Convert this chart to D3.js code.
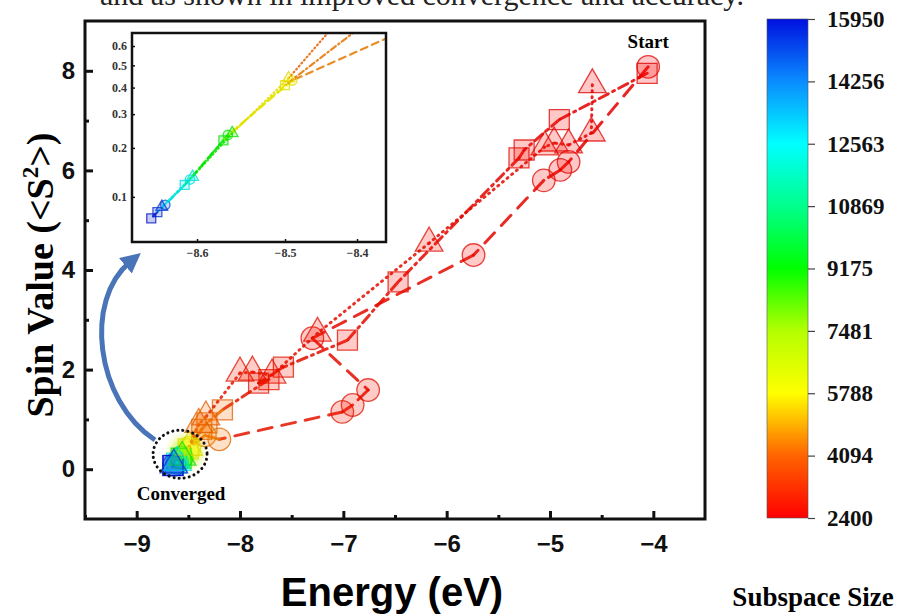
<!DOCTYPE html>
<html>
<head>
<meta charset="utf-8">
<script src="https://cdn.jsdelivr.net/npm/d3@7.9.0/dist/d3.min.js"></script>
<style>
  body { margin: 0; background: #fff; }
  svg { display: block; }
</style>
</head>
<body>
<svg id="chart" width="900" height="615"></svg>
<script>
// circle series (long dash)
const circleEnergy = [-4.05, -4.82, -4.90, -5.06, -5.74, -7.30, -6.76, -6.91, -7.01, -8.20, -8.34, -8.49, -8.565, -8.608, -8.636];
const circleSpin   = [8.08, 6.17, 6.01, 5.80, 4.30, 2.63, 1.59, 1.29, 1.15, 0.60, 0.68, 0.43, 0.235, 0.13, 0.088];
const circleSize   = [2400, 2450, 2500, 2550, 2600, 2650, 2700, 2750, 2800, 4300, 4500, 5800, 9100, 12500, 15000];

// square series (dash-dot)
const squareEnergy = [-4.06, -4.91, -5.25, -5.30, -6.47, -6.96, -7.58, -7.82, -7.72, -8.17, -8.32, -8.37, -8.50, -8.57, -8.614, -8.645, -8.652];
const squareSpin   = [7.95, 7.02, 6.41, 6.25, 3.76, 2.59, 2.05, 1.73, 1.80, 1.19, 0.93, 0.80, 0.41, 0.22, 0.12, 0.078, 0.07];
const squareSize   = [2400, 2450, 2500, 2550, 2600, 2650, 2700, 2750, 2800, 4200, 4300, 4400, 5900, 9200, 12600, 15500, 15950];

// triangle series (dotted)
const triEnergy = [-4.59, -4.60, -4.82, -4.96, -5.05, -6.17, -7.25, -7.69, -7.88, -8.00, -8.33, -8.40, -8.495, -8.56, -8.605, -8.64];
const triSpin   = [7.72, 6.75, 6.51, 6.55, 6.47, 4.54, 2.73, 1.89, 1.95, 1.93, 1.05, 0.90, 0.44, 0.24, 0.135, 0.085];
const triSize   = [2400, 2450, 2500, 2550, 2600, 2650, 2700, 2750, 2800, 2850, 4100, 4200, 5700, 9000, 12400, 15300];

// axes / colour bar
const xTicks = [-9, -8, -7, -6, -5, -4];
const yTicks = [0, 2, 4, 6, 8];
const insetXTicks = [-8.6, -8.5, -8.4];
const insetYTicks = [0.1, 0.2, 0.3, 0.4, 0.5, 0.6];
const colorTicks = [2400, 4094, 5788, 7481, 9175, 10869, 12563, 14256, 15950];
const colorStops = ["#ff0000", "#ff6400", "#ffff00", "#b4ff00", "#00ff00", "#00ff8c", "#00ffff", "#0a8cff", "#0010e0"];

const svg = d3.select('#chart');
const serif = '"Liberation Serif", "Times New Roman", serif';
const sans = '"Liberation Sans", Arial, sans-serif';

const color = d3.scaleLinear().domain(colorTicks).range(colorStops);

// main scales
const x = d3.scaleLinear().domain([-9.5, -3.5]).range([85, 705]);
const y = d3.scaleLinear().domain([-1, 9]).range([519, 21]);

// inset scales
const ix = d3.scaleLinear().domain([-8.6, -8.5, -8.4]).range([197, 285, 357]);
const iy = d3.scalePow().exponent(0.3).domain([0.045, 0.675]).range([242, 33]);

const defs = svg.append('defs');

// clipped line of text from the page above the figure
svg.append('text')
  .attr('x', 100).attr('y', 5)
  .attr('font-family', serif).attr('font-size', 30)
  .attr('fill', '#222')
  .text('and as shown in improved convergence and accuracy.');

// main axes
const gx = svg.append('g').attr('transform', `translate(0,${y(-1)})`)
  .call(d3.axisBottom(x).tickValues(xTicks).tickSize(-8).tickPadding(16).tickFormat(d3.format('d')));
svg.append('g').attr('transform', `translate(0,${y(-1)})`)
  .call(d3.axisBottom(x).tickValues(d3.range(-9.5, -3.9, 1)).tickSize(-4).tickFormat(''));
const gy = svg.append('g').attr('transform', `translate(${x(-9.5)},0)`)
  .call(d3.axisLeft(y).tickValues(yTicks).tickSize(-8).tickPadding(10).tickFormat(d3.format('d')));
svg.append('g').attr('transform', `translate(${x(-9.5)},0)`)
  .call(d3.axisLeft(y).tickValues([1, 3, 5, 7]).tickSize(-4).tickFormat(''));

svg.selectAll('.domain').remove();
svg.selectAll('.tick line').attr('stroke', '#111').attr('stroke-width', 3);
[gx, gy].forEach(g => g.selectAll('text')
  .attr('font-family', sans).attr('font-weight', 'bold')
  .attr('font-size', 24).attr('fill', '#111'));

svg.append('rect')
  .attr('x', x(-9.5)).attr('y', y(9))
  .attr('width', x(-3.5) - x(-9.5)).attr('height', y(-1) - y(9))
  .attr('fill', 'none').attr('stroke', '#111').attr('stroke-width', 3);

// axis titles
svg.append('text')
  .attr('x', 392).attr('y', 606)
  .attr('text-anchor', 'middle')
  .attr('font-family', sans).attr('font-weight', 'bold').attr('font-size', 40)
  .text('Energy (eV)');

const yt = svg.append('text')
  .attr('transform', 'translate(53,275) rotate(-90)')
  .attr('text-anchor', 'middle')
  .attr('font-family', serif).attr('font-weight', 'bold').attr('font-size', 38);
yt.append('tspan').text('Spin Value (<S');
yt.append('tspan').attr('font-size', 23).attr('dy', -15).text('2');
yt.append('tspan').attr('dy', 15).text('>)');

// converged glow + ellipse
const glow = defs.append('radialGradient').attr('id', 'glow');
glow.append('stop').attr('offset', '0%').attr('stop-color', '#f4f000').attr('stop-opacity', 0.9);
glow.append('stop').attr('offset', '60%').attr('stop-color', '#c8f030').attr('stop-opacity', 0.5);
glow.append('stop').attr('offset', '100%').attr('stop-color', '#ffff80').attr('stop-opacity', 0);
svg.append('circle')
  .attr('cx', x(-8.52)).attr('cy', y(0.35)).attr('r', 22)
  .attr('fill', 'url(#glow)');

function drawSeries(g, xs, ys, ss, symbol, dash, sx, sy, symSize, lw) {
  for (let i = 0; i < xs.length - 1; i++) {
    g.append('line')
      .attr('x1', sx(xs[i])).attr('y1', sy(ys[i]))
      .attr('x2', sx(xs[i + 1])).attr('y2', sy(ys[i + 1]))
      .attr('stroke', d3.color(color(ss[i])).darker(0.3))
      .attr('stroke-width', lw)
      .attr('stroke-dasharray', dash)
      .attr('stroke-linecap', 'round')
      .attr('opacity', 0.85);
  }
  const sym = d3.symbol().type(symbol).size(symSize);
  xs.forEach((v, i) => {
    const c = color(ss[i]);
    g.append('path')
      .attr('d', sym())
      .attr('transform', `translate(${sx(v)},${sy(ys[i])})`)
      .attr('fill', c).attr('fill-opacity', 0.22)
      .attr('stroke', d3.color(c).darker(0.4)).attr('stroke-opacity', 0.75)
      .attr('stroke-width', 1.3);
  });
}

const main = svg.append('g');
drawSeries(main, circleEnergy, circleSpin, circleSize, d3.symbolCircle, '14,10', x, y, 400, 3);
drawSeries(main, squareEnergy, squareSpin, squareSize, d3.symbolSquare, '10,5,2,5', x, y, 400, 3);
drawSeries(main, triEnergy, triSpin, triSize, d3.symbolTriangle, '1,5', x, y, 330, 3);

svg.append('ellipse')
  .attr('cx', x(-8.58)).attr('cy', y(0.3)).attr('rx', 27).attr('ry', 24)
  .attr('fill', 'none').attr('stroke', '#111').attr('stroke-width', 3)
  .attr('stroke-dasharray', '0.1,5').attr('stroke-linecap', 'round');

svg.append('text')
  .attr('x', x(-8.57)).attr('y', 500).attr('text-anchor', 'middle')
  .attr('font-family', serif).attr('font-weight', 'bold').attr('font-size', 19)
  .text('Converged');
svg.append('text')
  .attr('x', x(-4.05)).attr('y', 48).attr('text-anchor', 'middle')
  .attr('font-family', serif).attr('font-weight', 'bold').attr('font-size', 19)
  .text('Start');

// blue arrow towards inset
defs.append('marker')
  .attr('id', 'head').attr('viewBox', '0 0 10 10')
  .attr('refX', 3).attr('refY', 5)
  .attr('markerWidth', 4).attr('markerHeight', 4)
  .attr('orient', 'auto')
  .append('path').attr('d', 'M0,0 L10,5 L0,10 z').attr('fill', '#4a74b8');
svg.append('path')
  .attr('d', 'M155,440 C95,400 84,300 130,262')
  .attr('fill', 'none').attr('stroke', '#4a74b8').attr('stroke-width', 5)
  .attr('marker-end', 'url(#head)');

// inset
const insetL = 132, insetR = 386, insetT = 33, insetB = 242;
svg.append('rect')
  .attr('x', insetL).attr('y', insetT)
  .attr('width', insetR - insetL).attr('height', insetB - insetT)
  .attr('fill', '#fff');
defs.append('clipPath').attr('id', 'insetClip')
  .append('rect').attr('x', insetL).attr('y', insetT)
  .attr('width', insetR - insetL).attr('height', insetB - insetT);
const inset = svg.append('g').attr('clip-path', 'url(#insetClip)');
drawSeries(inset, circleEnergy, circleSpin, circleSize, d3.symbolCircle, '7,5', ix, iy, 70, 2.2);
drawSeries(inset, squareEnergy, squareSpin, squareSize, d3.symbolSquare, '6,3,1.5,3', ix, iy, 80, 2.2);
drawSeries(inset, triEnergy, triSpin, triSize, d3.symbolTriangle, '1,3', ix, iy, 60, 2.2);

const igx = svg.append('g').attr('transform', `translate(0,${insetB})`)
  .call(d3.axisBottom(ix).tickValues(insetXTicks).tickSize(-3).tickPadding(6).tickFormat(d3.format('.1f')));
const igy = svg.append('g').attr('transform', `translate(${insetL},0)`)
  .call(d3.axisLeft(iy).tickValues(insetYTicks).tickSize(-3).tickPadding(5).tickFormat(d3.format('.1f')));
[igx, igy].forEach(g => {
  g.select('.domain').remove();
  g.selectAll('.tick line').attr('stroke', '#111').attr('stroke-width', 1.5);
  g.selectAll('text').attr('font-family', serif).attr('font-weight', 'bold')
    .attr('font-size', 12).attr('fill', '#333');
});
svg.append('rect')
  .attr('x', insetL).attr('y', insetT)
  .attr('width', insetR - insetL).attr('height', insetB - insetT)
  .attr('fill', 'none').attr('stroke', '#111').attr('stroke-width', 2.5);

// colour bar
const cb = d3.scaleLinear().domain([2400, 15950]).range([518, 19]);
const grad = defs.append('linearGradient').attr('id', 'cbar')
  .attr('x1', 0).attr('y1', 1).attr('x2', 0).attr('y2', 0);
colorTicks.forEach((t, i) => {
  grad.append('stop')
    .attr('offset', (t - 2400) / (15950 - 2400))
    .attr('stop-color', colorStops[i]);
});
svg.append('rect')
  .attr('x', 767).attr('y', cb(15950))
  .attr('width', 41).attr('height', cb(2400) - cb(15950))
  .attr('fill', 'url(#cbar)').attr('stroke', '#555').attr('stroke-width', 0.6);
const gc = svg.append('g').attr('transform', 'translate(808,0)')
  .call(d3.axisRight(cb).tickValues(colorTicks).tickSize(7).tickPadding(12).tickFormat(d3.format('d')));
gc.select('.domain').remove();
gc.selectAll('.tick line').attr('stroke', '#444').attr('stroke-width', 1.2);
gc.selectAll('text').attr('font-family', serif).attr('font-weight', 'bold')
  .attr('font-size', 23).attr('fill', '#111');

svg.append('text')
  .attr('x', 813).attr('y', 606).attr('text-anchor', 'middle')
  .attr('font-family', serif).attr('font-weight', 'bold').attr('font-size', 27)
  .text('Subspace Size');
</script>
</body>
</html>
